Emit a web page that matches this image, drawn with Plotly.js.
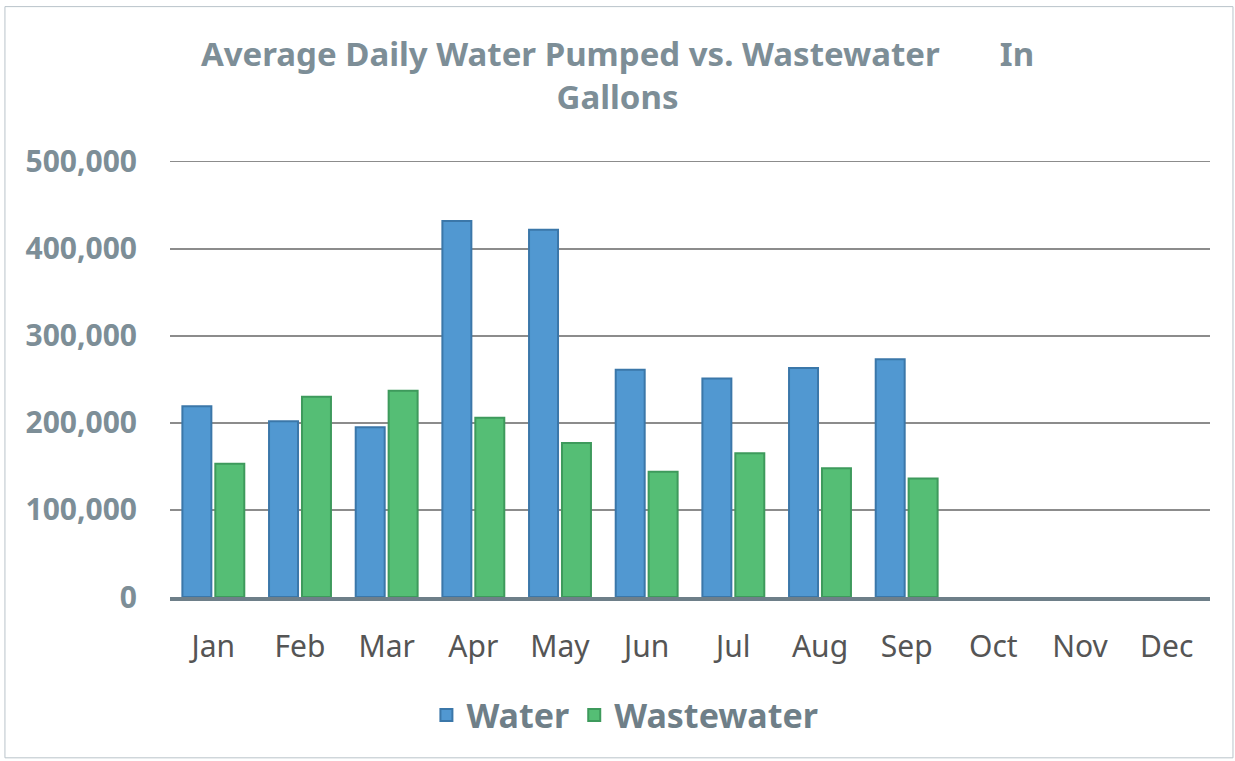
<!DOCTYPE html>
<html>
<head>
<meta charset="utf-8">
<script src="https://cdn.plot.ly/plotly-3.0.1.min.js"></script>
<style>html,body{margin:0;padding:0;background:#fff;}#chart{width:1235px;height:761px;}</style>
</head>
<body>
<div id="chart"></div>
<script>
const months = ["Jan","Feb","Mar","Apr","May","Jun","Jul","Aug","Sep","Oct","Nov","Dec"];
const water = [219000, 202000, 195000, 432000, 422000, 261000, 251000, 263000, 273000, null, null, null];
const wastewater = [153000, 230000, 237000, 206000, 177000, 144000, 165000, 148000, 136000, null, null, null];
const yTicks = [0, 100000, 200000, 300000, 400000, 500000];
const yTickText = ["0", "100,000", "200,000", "300,000", "400,000", "500,000"];

const traces = [
  {type: "bar", name: "Water", x: months, y: water,
   marker: {color: "#5198d1", line: {color: "#3b77a9", width: 2}}},
  {type: "bar", name: "Wastewater", x: months, y: wastewater,
   marker: {color: "#55be75", line: {color: "#3e9a5c", width: 2}}}
];

const layout = {
  width: 1235, height: 761,
  margin: {l: 170, r: 25, t: 160, b: 164},
  paper_bgcolor: "#ffffff", plot_bgcolor: "#ffffff",
  font: {family: "Noto Sans, sans-serif", color: "#555"},
  title: {
    text: "Average Daily Water Pumped vs. Wastewater       In<br>Gallons",
    font: {family: "Noto Sans, sans-serif", size: 33, color: "#7d8e97", weight: "bold"},
    x: 0.5, xref: "container", xanchor: "center",
    y: 0.913, yref: "container", yanchor: "middle"
  },
  barmode: "group", bargap: 0.24, bargroupgap: 0.12,
  showlegend: true,
  legend: {
    orientation: "h", x: 0.506, xref: "container", xanchor: "center",
    y: 0.06, yref: "container", yanchor: "middle",
    font: {family: "Noto Sans, sans-serif", size: 34, color: "#6f7f88", weight: "bold"},
    itemwidth: 30
  },
  xaxis: {
    type: "category", categoryorder: "array", categoryarray: months,
    tickfont: {family: "Noto Sans, sans-serif", size: 30, color: "#555"},
    ticks: "", ticklabelstandoff: 20,
    showline: true, linecolor: "#6e7f89", linewidth: 4,
    showgrid: false, zeroline: false, fixedrange: true
  },
  yaxis: {
    range: [0, 502000], tickvals: yTicks, ticktext: yTickText,
    tickfont: {family: "Noto Sans, sans-serif", size: 30, color: "#7d8e97", weight: "bold"},
    ticks: "", ticklabelstandoff: 32,
    showgrid: true, gridcolor: "#8c8c8c", gridwidth: 1.5,
    zeroline: false, showline: false, fixedrange: true
  },
  shapes: [
    {type: "rect", xref: "paper", yref: "paper",
     x0: -0.1587, x1: 1.0221, y0: -0.368, y1: 1.351,
     line: {color: "#b9c3ca", width: 1}, fillcolor: "rgba(0,0,0,0)", layer: "below"}
  ]
};

Plotly.newPlot("chart", traces, layout, {displayModeBar: false, staticPlot: true});
</script>
</body>
</html>
